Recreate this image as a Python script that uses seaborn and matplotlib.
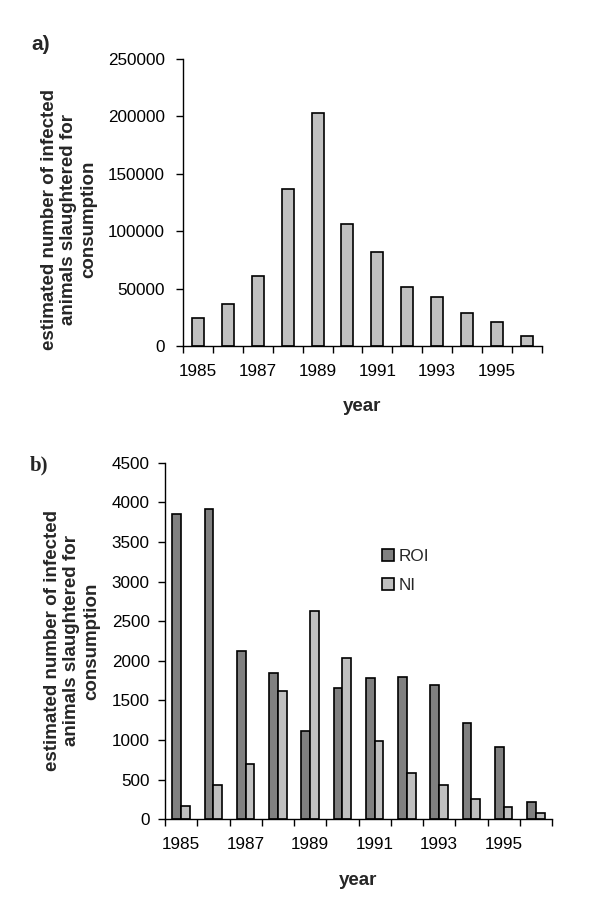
import pandas as pd
import seaborn as sns
import matplotlib.pyplot as plt
from matplotlib.ticker import FixedLocator

# data
years = [1985, 1986, 1987, 1988, 1989, 1990, 1991, 1992, 1993, 1994, 1995, 1996]
uk_infected = [24000, 36500, 61000, 136500, 202500, 106000, 81500, 51500, 43000, 29000, 21000, 8700]
roi_infected = [3855, 3920, 2120, 1840, 1120, 1660, 1780, 1800, 1695, 1220, 915, 220]
ni_infected = [172, 437, 700, 1620, 2630, 2040, 990, 580, 437, 260, 160, 76]
series_names = ["ROI", "NI"]
year_ticks = [1985, 1987, 1989, 1991, 1993, 1995]

ylabel_txt = "estimated number of infected\nanimals slaughtered for\nconsumption"

sns.set_theme(style="ticks")
plt.rcParams['font.family'] = ['Liberation Sans', 'DejaVu Sans']
plt.rcParams['axes.linewidth'] = 1.0
plt.rcParams['axes.edgecolor'] = 'black'
plt.rcParams['xtick.color'] = 'black'
plt.rcParams['ytick.color'] = 'black'

fig = plt.figure(figsize=(6, 9), dpi=100)
ax1 = fig.add_axes([0.305, 0.6156, 0.598, 0.3189])
ax2 = fig.add_axes([0.275, 0.0897, 0.645, 0.3962])

# a) single series
sns.barplot(x=years, y=uk_infected, color="#C0C0C0", edgecolor="black",
            linewidth=1.2, width=0.4, saturation=1, ax=ax1)

# b) two series side by side
df_b = pd.DataFrame({
    "year": years * 2,
    "value": roi_infected + ni_infected,
    "region": [series_names[0]] * len(years) + [series_names[1]] * len(years),
})
sns.barplot(data=df_b, x="year", y="value", hue="region",
            palette=["#808080", "#C0C0C0"], edgecolor="black", linewidth=1.2,
            width=0.55, saturation=1, ax=ax2)

for ax, top, step, ypad in [(ax1, 250000, 50000, 8), (ax2, 4500, 500, 6)]:
    ax.set_xlim(-0.5, len(years) - 0.5)
    ax.set_ylim(0, top)
    ax.set_yticks(range(0, top + 1, step))
    pos = [years.index(y) for y in year_ticks]
    ax.set_xticks(pos)
    ax.set_xticklabels([str(y) for y in year_ticks])
    ax.xaxis.set_minor_locator(FixedLocator([i - 0.5 for i in range(len(years) + 1)]))
    ax.tick_params(axis='x', which='major', length=0, labelsize=12.3, pad=13)
    ax.tick_params(axis='x', which='minor', length=5, width=1, direction='out')
    ax.tick_params(axis='y', length=5, width=1, direction='out', labelsize=12.3, pad=ypad)
    for side in ['top', 'right']:
        ax.spines[side].set_visible(False)
    ax.set_xlabel("year", fontsize=13.5, fontweight='bold', labelpad=14)
    ax.set_ylabel(ylabel_txt, fontsize=13.5, fontweight='bold', linespacing=1.2)
    ax.set_facecolor('white')

ax1.yaxis.set_label_coords(-0.24, 0.44)
ax2.yaxis.set_label_coords(-0.168, 0.50)

ax2.legend(title=None, frameon=False, loc='upper left',
           bbox_to_anchor=(0.52, 0.80), fontsize=12.3,
           handlelength=0.7, handleheight=0.7, labelspacing=0.8,
           handletextpad=0.3)

fig.text(0.053, 0.95, "a)", fontsize=15, fontweight='bold', va='center')
fig.text(0.05, 0.483, "b)", fontsize=15, fontweight='bold', va='center',
         family=['Liberation Serif', 'DejaVu Serif'])

fig.savefig("out.png", dpi=100, facecolor='white')
